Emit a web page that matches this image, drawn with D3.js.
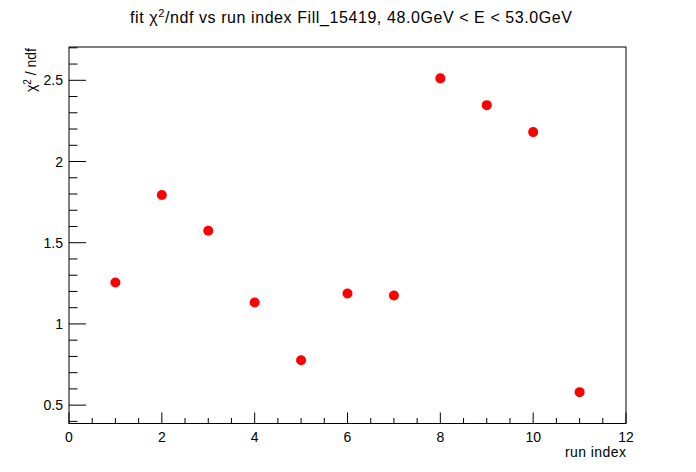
<!DOCTYPE html>
<html>
<head>
<meta charset="utf-8">
<script src="https://cdn.jsdelivr.net/npm/d3@7"></script>
<style>
  body { margin: 0; background: #fff; }
  text { font-family: "Liberation Sans", Arial, sans-serif; }
</style>
</head>
<body>
<svg id="chart" width="696" height="472"></svg>
<script>
// run index values and fitted chi2/ndf
const runIndex = [1, 2, 3, 4, 5, 6, 7, 8, 9, 10, 11];
const chi2ndf = [1.255, 1.794, 1.574, 1.132, 0.776, 1.187, 1.175, 2.512, 2.347, 2.181, 0.580];
const xTicks = [0, 2, 4, 6, 8, 10, 12];
const yTicks = [0.5, 1, 1.5, 2, 2.5];

const svg = d3.select("#chart");
const frame = { left: 69, right: 626, top: 47, bottom: 423.5 };

const x = d3.scaleLinear().domain([0, 12]).range([frame.left, frame.right]);
const y = d3.scaleLinear().domain([0.387, 2.705]).range([frame.bottom, frame.top]);

// frame box
svg.append("rect")
    .attr("x", frame.left).attr("y", frame.top)
    .attr("width", frame.right - frame.left)
    .attr("height", frame.bottom - frame.top)
    .attr("fill", "none").attr("stroke", "#000").attr("stroke-width", 1);

// x ticks (major every 2, minor every 0.5)
const xMinor = d3.range(0, 12.001, 0.5);
svg.append("g").selectAll("line")
    .data(xMinor)
    .enter().append("line")
    .attr("x1", d => x(d)).attr("x2", d => x(d))
    .attr("y1", frame.bottom)
    .attr("y2", d => frame.bottom - (d % 2 === 0 ? 11 : 5.5))
    .attr("stroke", "#000");

svg.append("g").selectAll("text")
    .data(xTicks)
    .enter().append("text")
    .attr("x", d => x(d)).attr("y", 442)
    .attr("text-anchor", "middle")
    .attr("font-size", 14)
    .text(d => d);

// y ticks (major every 0.5, minor every 0.1)
const yMinor = d3.range(4, 28).map(d => d / 10);
svg.append("g").selectAll("line")
    .data(yMinor)
    .enter().append("line")
    .attr("y1", d => y(d)).attr("y2", d => y(d))
    .attr("x1", frame.left)
    .attr("x2", d => frame.left + (Math.round(d * 10) % 5 === 0 ? 17 : 8.5))
    .attr("stroke", "#000");

svg.append("g").selectAll("text")
    .data(yTicks)
    .enter().append("text")
    .attr("x", 63).attr("y", d => y(d) + 5)
    .attr("text-anchor", "end")
    .attr("font-size", 14)
    .text(d => d);

// axis titles
svg.append("text")
    .attr("x", frame.right).attr("y", 457)
    .attr("text-anchor", "end")
    .attr("font-size", 14)
    .attr("textLength", 61)
    .attr("lengthAdjust", "spacing")
    .text("run index");

const yl = svg.append("text")
    .attr("transform", "translate(36,48) rotate(-90)")
    .attr("text-anchor", "end")
    .attr("font-size", 14);
yl.append("tspan").text("\u03c7");
yl.append("tspan").attr("dy", -5).attr("font-size", 10).text("2");
yl.append("tspan").attr("dy", 5).text(" / ndf");

// title
const title = svg.append("text")
    .attr("x", 130).attr("y", 23)
    .attr("text-anchor", "start")
    .attr("font-size", 16)
    .attr("textLength", 442)
    .attr("lengthAdjust", "spacing");
title.append("tspan").text("fit \u03c7");
title.append("tspan").attr("dy", -6).attr("font-size", 11).text("2");
title.append("tspan").attr("dy", 6).text("/ndf vs run index Fill_15419, 48.0GeV < E < 53.0GeV");

// points
svg.append("g").selectAll("circle")
    .data(runIndex)
    .enter().append("circle")
    .attr("cx", (d) => x(d))
    .attr("cy", (d, i) => y(chi2ndf[i]))
    .attr("r", 5)
    .attr("fill", "#ff0000");
</script>
</body>
</html>
